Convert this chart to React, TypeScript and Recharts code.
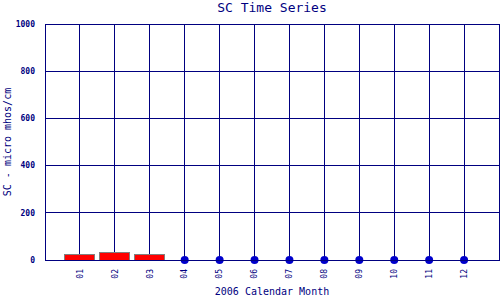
import {
  Bar,
  CartesianGrid,
  ComposedChart,
  Line,
  XAxis,
  YAxis,
} from "recharts";

const months = [1, 2, 3, 4, 5, 6, 7, 8, 9, 10, 11, 12];
const scBars = [25, 30, 22, null, null, null, null, null, null, null, null, null];
const scMissing = [null, null, null, 0, 0, 0, 0, 0, 0, 0, 0, 0];
const yTicks = [0, 200, 400, 600, 800, 1000];

const NAVY = "#000080";
const FONT = "'DejaVu Sans Mono', monospace";

const data = months.map((m, i) => ({
  month: m,
  sc: scBars[i],
  missing: scMissing[i],
}));

const MonthTick = ({ x, y, payload }: any) => (
  <text
    x={x}
    y={y}
    transform={`rotate(-90, ${x}, ${y})`}
    textAnchor="end"
    dy="0.35em"
    fill={NAVY}
    fontFamily={FONT}
    fontSize={8}
  >
    {String(payload.value).padStart(2, "0")}
  </text>
);

export default function App() {
  return (
    <div
      style={{
        position: "absolute",
        left: 0,
        top: 0,
        width: 500,
        height: 300,
        background: "white",
        fontFamily: FONT,
      }}
    >
      <style>{`.recharts-cartesian-grid line, .recharts-bar-rectangle path { shape-rendering: crispEdges; }`}</style>
      <div
        style={{
          position: "absolute",
          left: 45,
          width: 454,
          top: 0,
          textAlign: "center",
          fontSize: 13,
          color: NAVY,
          lineHeight: "16px",
        }}
      >
        SC Time Series
      </div>
      <div
        style={{
          position: "absolute",
          left: 45,
          width: 454,
          top: 285,
          textAlign: "center",
          fontSize: 10,
          color: NAVY,
          lineHeight: "14px",
        }}
      >
        2006 Calendar Month
      </div>
      <div
        style={{
          position: "absolute",
          left: 8,
          top: 142,
          width: 0,
          height: 0,
        }}
      >
        <div
          style={{
            position: "absolute",
            transform: "translate(-50%, -50%) rotate(-90deg)",
            whiteSpace: "nowrap",
            fontSize: 10,
            color: NAVY,
            lineHeight: "12px",
          }}
        >
          SC - micro mhos/cm
        </div>
      </div>
      <div style={{ position: "absolute", left: 0, top: 0 }}>
        <ComposedChart
          width={500}
          height={300}
          data={data}
          margin={{ top: 24, right: 1, bottom: 0, left: 0 }}
        >
          <CartesianGrid
            stroke={NAVY}
            strokeWidth={1}
            fill="white"
            verticalValues={months}
            horizontalValues={yTicks}
          />
          <XAxis
            dataKey="month"
            type="number"
            domain={[0, 13]}
            ticks={months}
            interval={0}
            height={40}
            axisLine={false}
            tickLine={false}
            tickMargin={3}
            tick={<MonthTick />}
          />
          <YAxis
            type="number"
            domain={[0, 1000]}
            ticks={yTicks}
            width={45}
            axisLine={false}
            tickLine={false}
            tickMargin={4}
            tick={{
              fill: NAVY,
              fontFamily: FONT,
              fontSize: 8,
              fontWeight: "bold",
            }}
          />
          <Bar
            dataKey="sc"
            barSize={30}
            fill="#FF0000"
            stroke="#808080"
            strokeWidth={1}
            isAnimationActive={false}
          />
          <Line
            dataKey="missing"
            stroke="none"
            dot={{ r: 4, fill: "#0000CC", stroke: "none" }}
            activeDot={false}
            isAnimationActive={false}
          />
        </ComposedChart>
        <div
          style={{
            position: "absolute",
            left: 45,
            top: 24,
            width: 455,
            height: 237,
            border: `1px solid ${NAVY}`,
            boxSizing: "border-box",
            pointerEvents: "none",
          }}
        />
      </div>
    </div>
  );
}
